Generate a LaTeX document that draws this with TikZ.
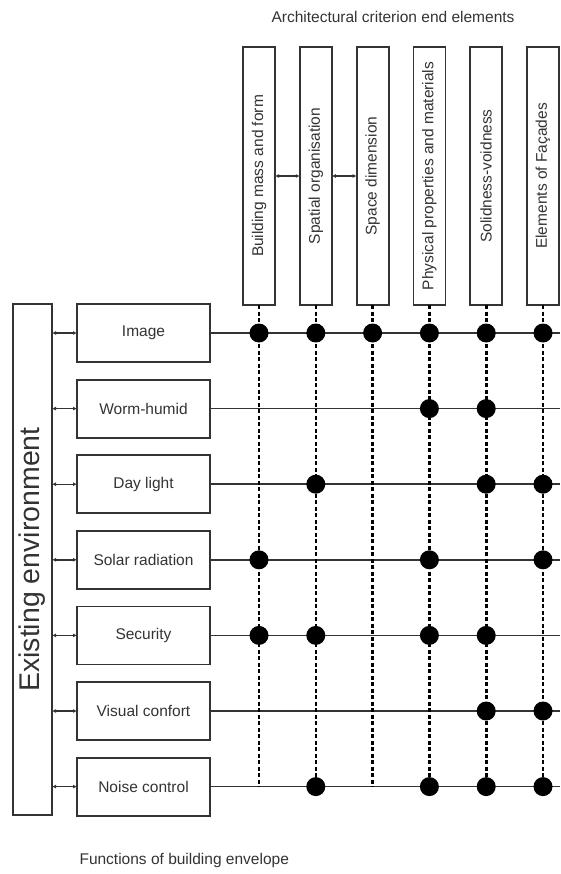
\documentclass[tikz,border=0pt]{standalone}
\usepackage{fontspec}
\setmainfont{Liberation Sans}
\usetikzlibrary{arrows.meta, positioning}
\definecolor{ink}{HTML}{333333}
\tikzset{
	every node/.style={
		font=\fontsize{15.5}{18}\selectfont,
		text=ink
	},
	funcbox/.style={
		shape=rectangle,
		minimum width=133pt,
		minimum height=58pt,
		inner sep=0pt,
		outer sep=0pt,
		draw=ink,
		line width=1.8pt
	},
	critbox/.style={
		shape=rectangle,
		minimum width=32pt,
		minimum height=258pt,
		inner sep=0pt,
		outer sep=0pt,
		draw=ink,
		line width=1.8pt
	},
	envbox/.style={
		shape=rectangle,
		minimum width=39pt,
		minimum height=511pt,
		inner sep=0pt,
		outer sep=0pt,
		draw=ink,
		line width=1.8pt,
		font=\fontsize{28.5}{30}\selectfont
	},
	myarrow/.style={{Latex[length=4pt,width=4pt]}-{Latex[length=4pt,width=4pt]}, draw=ink, line width=1.4pt},
	rowline/.style={draw=ink, line width=1.5pt},
	colline/.style={draw=black, line width=2.6pt, dash pattern=on 4pt off 2.5pt},
	knot/.style={fill=black}
}

\begin{document}
\begin{tikzpicture}[x=1pt, y=-1pt]
\useasboundingbox (0,0) rectangle (560,874);

% titles
\node (title) at (393,17) {Architectural criterion end elements};
\node [anchor=west] (caption) at (76,860) {Functions of building envelope};

% existing environment and functions
\node [envbox] (env) at (32.5,559.5) {\rotatebox{90}{Existing environment}};
\node [funcbox] (f1) at (143.5,333) {Image};
\node [funcbox, below=17.6pt of f1] (f2) {Worm-humid};
\node [funcbox, below=17.6pt of f2] (f3) {Day light};
\node [funcbox, below=17.6pt of f3] (f4) {Solar radiation};
\node [funcbox, below=17.6pt of f4] (f5) {Security};
\node [funcbox, below=17.6pt of f5] (f6) {Visual confort};
\node [funcbox, below=17.6pt of f6] (f7) {Noise control};

% criterion elements
\node [critbox] (c1) at (259,176) {\rotatebox{90}{Building mass and form}};
\node [critbox, right=24.8pt of c1] (c2) {\rotatebox{90}{Spatial organisation}};
\node [critbox, right=24.8pt of c2] (c3) {\rotatebox{90}{Space dimension}};
\node [critbox, right=24.8pt of c3] (c4) {\rotatebox{90}{Physical properties and materials}};
\node [critbox, right=24.8pt of c4] (c5) {\rotatebox{90}{Solidness-voidness}};
\node [critbox, right=24.8pt of c5] (c6) {\rotatebox{90}{Elements of Façades}};

\coordinate (rim) at (560,0);

\draw [myarrow] (env.east |- f1) -- (f1.west);
\draw [myarrow] (env.east |- f2) -- (f2.west);
\draw [myarrow] (env.east |- f3) -- (f3.west);
\draw [myarrow] (env.east |- f4) -- (f4.west);
\draw [myarrow] (env.east |- f5) -- (f5.west);
\draw [myarrow] (env.east |- f6) -- (f6.west);
\draw [myarrow] (env.east |- f7) -- (f7.west);
\draw [myarrow] (c1.east) -- (c2.west);
\draw [myarrow] (c2.east) -- (c3.west);

% rows
\draw [rowline] (f1.east) -- (f1 -| rim);
\draw [rowline] (f2.east) -- (f2 -| rim);
\draw [rowline] (f3.east) -- (f3 -| rim);
\draw [rowline] (f4.east) -- (f4 -| rim);
\draw [rowline] (f5.east) -- (f5 -| rim);
\draw [rowline] (f6.east) -- (f6 -| rim);
\draw [rowline] (f7.east) -- (f7 -| rim);

% columns
\draw [colline] (c1.south) -- (c1 |- f7);
\draw [colline] (c2.south) -- (c2 |- f7);
\draw [colline] (c3.south) -- (c3 |- f7);
\draw [colline] (c4.south) -- (c4 |- f7);
\draw [colline] (c5.south) -- (c5 |- f7);
\draw [colline] (c6.south) -- (c6 |- f7);

% links
\fill [knot] (c1 |- f1) circle (9.5pt) (c2 |- f1) circle (9.5pt) (c3 |- f1) circle (9.5pt)
	(c4 |- f1) circle (9.5pt) (c5 |- f1) circle (9.5pt) (c6 |- f1) circle (9.5pt);
\fill [knot] (c4 |- f2) circle (9.5pt) (c5 |- f2) circle (9.5pt);
\fill [knot] (c2 |- f3) circle (9.5pt) (c5 |- f3) circle (9.5pt) (c6 |- f3) circle (9.5pt);
\fill [knot] (c1 |- f4) circle (9.5pt) (c4 |- f4) circle (9.5pt) (c6 |- f4) circle (9.5pt);
\fill [knot] (c1 |- f5) circle (9.5pt) (c2 |- f5) circle (9.5pt) (c4 |- f5) circle (9.5pt) (c5 |- f5) circle (9.5pt);
\fill [knot] (c5 |- f6) circle (9.5pt) (c6 |- f6) circle (9.5pt);
\fill [knot] (c2 |- f7) circle (9.5pt) (c4 |- f7) circle (9.5pt) (c5 |- f7) circle (9.5pt) (c6 |- f7) circle (9.5pt);

\end{tikzpicture}
\end{document}
